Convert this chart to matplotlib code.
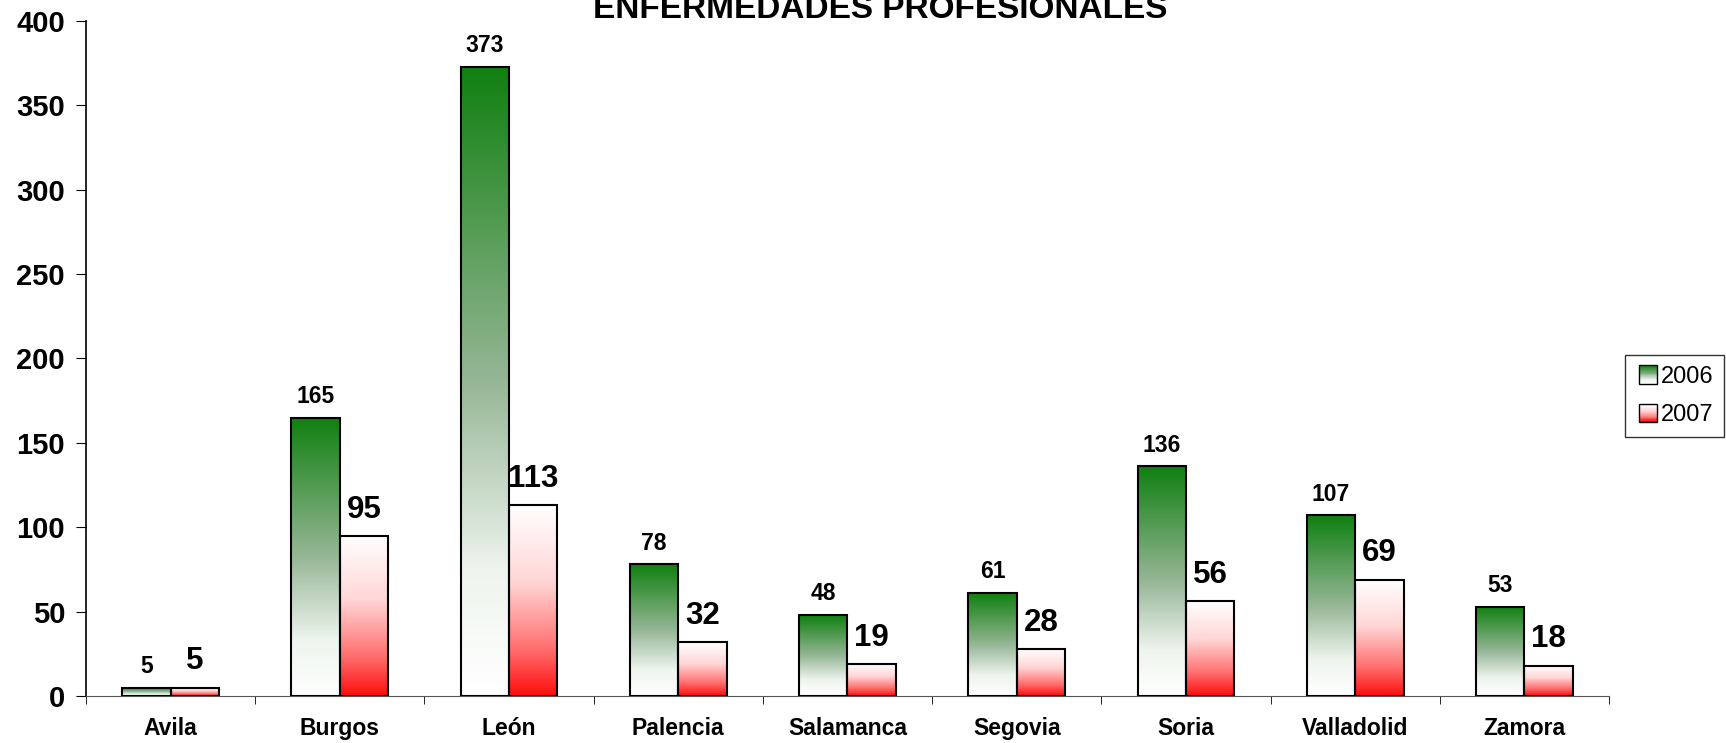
import matplotlib
matplotlib.use('Agg')
import matplotlib.pyplot as plt
import numpy as np
from matplotlib.colors import LinearSegmentedColormap
from matplotlib.legend_handler import HandlerBase
from matplotlib.patches import Rectangle

plt.rcParams['font.family'] = ['Liberation Sans', 'DejaVu Sans']

# Datos
provincias = ['Avila', 'Burgos', 'León', 'Palencia', 'Salamanca', 'Segovia',
              'Soria', 'Valladolid', 'Zamora']
valores_2006 = [5, 165, 373, 78, 48, 61, 136, 107, 53]
valores_2007 = [5, 95, 113, 32, 19, 28, 56, 69, 18]
anios = ['2006', '2007']
titulo = 'ENFERMEDADES PROFESIONALES'

# degradados (arriba -> abajo)
cmap_verde = LinearSegmentedColormap.from_list(
    'verde', [(0.0, '#108010'), (0.5, '#96b696'), (0.8, '#eef4ee'), (1.0, '#ffffff')])
cmap_rojo = LinearSegmentedColormap.from_list(
    'rojo', [(0.0, '#ffffff'), (0.4, '#ffd6d6'), (0.75, '#ff7070'), (1.0, '#ff0d0d')])

fig = plt.figure(figsize=(17.26, 7.43), dpi=100)
ax = fig.add_axes([0.0498, 0.0633, 0.8824, 0.9084])

ancho = 0.286
x = np.arange(len(provincias))
grad = np.linspace(0, 1, 256).reshape(-1, 1)


def barras_degradado(posiciones, alturas, cmap):
    barras = ax.bar(posiciones, alturas, width=ancho, align='edge',
                    facecolor='none', edgecolor='black', linewidth=1.5, zorder=3)
    for b in barras:
        x0, h = b.get_x(), b.get_height()
        im = ax.imshow(grad, cmap=cmap, aspect='auto', origin='upper',
                       extent=[x0, x0 + ancho, 0, h], zorder=2)
        im.set_clip_path(b)
    return barras


barras_degradado(x - ancho, valores_2006, cmap_verde)
barras_degradado(x, valores_2007, cmap_rojo)

for xi, v in zip(x, valores_2006):
    ax.annotate(str(v), (xi - ancho / 2, v), xytext=(0, 7), textcoords='offset points',
                ha='center', va='bottom', fontsize=16.5, fontweight='bold')
for xi, v in zip(x, valores_2007):
    ax.annotate(str(v), (xi + ancho / 2, v), xytext=(0, 8), textcoords='offset points',
                ha='center', va='bottom', fontsize=22.5, fontweight='bold')

ax.set_xlim(-0.5, len(provincias) - 0.5)
ax.set_ylim(0, 400)
ax.set_yticks(range(0, 401, 50))
ax.set_xticks(x)
ax.set_xticklabels(provincias, fontsize=16.5, fontweight='bold')
ax.set_xticks(np.arange(-0.5, len(provincias), 1), minor=True)
ax.tick_params(axis='x', which='major', length=0, pad=15)
ax.tick_params(axis='x', which='minor', length=6, direction='out')
ax.tick_params(axis='y', length=7, direction='out', labelsize=21, pad=8)
for t in ax.get_yticklabels():
    t.set_fontweight('bold')
ax.spines['top'].set_visible(False)
ax.spines['right'].set_visible(False)
ax.spines['left'].set_linewidth(1.2)
ax.spines['bottom'].set_color('#555555')

fig.text(0.51, 0.976, titulo, ha='center', va='baseline', fontsize=24, fontweight='bold')


class HandlerDegradado(HandlerBase):
    def __init__(self, cmap):
        super().__init__()
        self.cmap = cmap

    def create_artists(self, legend, orig_handle, xdescent, ydescent, width, height,
                       fontsize, trans):
        n = 20
        lado = height * 1.1
        x0 = width - lado
        y0 = -ydescent + (height - lado) / 2
        artistas = []
        for k in range(n):
            c = self.cmap(k / (n - 1))
            artistas.append(Rectangle((x0, y0 + lado * (n - 1 - k) / n), lado, lado / n,
                                      facecolor=c, edgecolor='none', transform=trans))
        artistas.append(Rectangle((x0, y0), lado, lado, facecolor='none',
                                  edgecolor='black', linewidth=1, transform=trans))
        return artistas


h1 = Rectangle((0, 0), 1, 1)
h2 = Rectangle((0, 0), 1, 1)
leg = fig.legend([h1, h2], anios, loc='center left', bbox_to_anchor=(0.9415, 0.467),
                 fontsize=17, frameon=True, fancybox=False, edgecolor='black',
                 handlelength=0.9, handletextpad=0.15, borderpad=0.45, labelspacing=0.7,
                 borderaxespad=0,
                 handler_map={h1: HandlerDegradado(cmap_verde), h2: HandlerDegradado(cmap_rojo)})
leg.get_frame().set_linewidth(1)

fig.savefig('out.png', dpi=100)
